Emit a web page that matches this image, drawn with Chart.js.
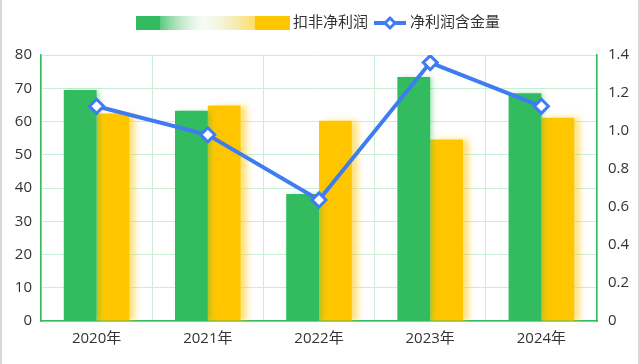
<!DOCTYPE html>
<html>
<head>
<meta charset="utf-8">
<script src="https://cdn.jsdelivr.net/npm/chart.js@4/dist/chart.umd.min.js"></script>
<style>
    html, body { margin: 0; padding: 0; background: #fff; }
    #wrap { width: 640px; height: 364px; box-sizing: border-box; border-left: 2px solid #d6d6d6; border-right: 2px solid #d6d6d6; }
    #wrap canvas { display: block; }
</style>
</head>
<body>
<div id="wrap"><canvas id="profit-chart" width="636" height="364"></canvas></div>
<script>
    "use strict";

    const years = ['2020年', '2021年', '2022年', '2023年', '2024年'];
    const netProfit = [69.5, 63.2, 38.2, 73.4, 68.5];
    const deductedProfit = [62.4, 64.8, 60.2, 54.6, 61.1];
    const profitQuality = [1.13, 0.98, 0.637, 1.36, 1.13];

    const green = '#32bc5f';
    const yellow = '#ffc600';
    const blue = '#3f7bf2';
    const gridColor = '#c9efd6';
    const font = { family: "'Open Sans', 'Noto Sans CJK SC', sans-serif", size: 15 };

    // soft glow behind the bars
    const barShadow = {
        id: 'barShadow',
        beforeDatasetDraw(chart, args) {
            const ctx = chart.ctx;
            ctx.save();
            if (args.index === 0) {
                ctx.shadowColor = 'rgba(50,188,95,0.4)';
                ctx.shadowBlur = 5;
                ctx.shadowOffsetX = 3;
            } else if (args.index === 1) {
                ctx.shadowColor = 'rgba(255,198,0,0.5)';
                ctx.shadowBlur = 6;
                ctx.shadowOffsetX = 6;
            }
        },
        afterDatasetDraw(chart) {
            chart.ctx.restore();
        }
    };

    // legend drawn by hand to keep the faded first swatch
    const topLegend = {
        id: 'topLegend',
        afterDraw(chart) {
            const ctx = chart.ctx;
            const y = 23;
            ctx.save();
            ctx.fillStyle = green;
            ctx.fillRect(134, y - 7, 24, 14);
            let g = ctx.createLinearGradient(158, 0, 253, 0);
            g.addColorStop(0, 'rgba(50,188,95,0.8)');
            g.addColorStop(0.45, 'rgba(200,230,190,0.15)');
            g.addColorStop(1, 'rgba(255,198,0,0.6)');
            ctx.fillStyle = g;
            ctx.fillRect(158, y - 7, 95, 14);
            ctx.fillStyle = yellow;
            ctx.fillRect(253, y - 7, 35, 14);

            ctx.font = "15px " + font.family;
            ctx.fillStyle = '#333';
            ctx.textBaseline = 'middle';
            ctx.fillText(chart.data.datasets[1].label, 291, y);

            ctx.strokeStyle = blue;
            ctx.lineWidth = 4;
            ctx.beginPath();
            ctx.moveTo(372, y);
            ctx.lineTo(404, y);
            ctx.stroke();
            ctx.beginPath();
            ctx.moveTo(388, y - 5);
            ctx.lineTo(393, y);
            ctx.lineTo(388, y + 5);
            ctx.lineTo(383, y);
            ctx.closePath();
            ctx.fillStyle = '#fff';
            ctx.fill();
            ctx.lineWidth = 3;
            ctx.stroke();

            ctx.fillStyle = '#333';
            ctx.fillText(chart.data.datasets[2].label, 408, y);
            ctx.restore();
        }
    };

    let profitChart = document.getElementById('profit-chart');
    if (profitChart) {
        window.Chart && new Chart(profitChart, {
            data: {
                labels: years,
                datasets: [{
                    type: 'bar',
                    label: '净利润',
                    data: netProfit,
                    backgroundColor: green,
                    yAxisID: 'y',
                    order: 2,
                    categoryPercentage: 0.59,
                    barPercentage: 1
                }, {
                    type: 'bar',
                    label: '扣非净利润',
                    data: deductedProfit,
                    backgroundColor: yellow,
                    yAxisID: 'y',
                    order: 2,
                    categoryPercentage: 0.59,
                    barPercentage: 1
                }, {
                    type: 'line',
                    label: '净利润含金量',
                    data: profitQuality,
                    yAxisID: 'y1',
                    order: 1,
                    borderColor: blue,
                    borderWidth: 4,
                    pointStyle: 'rectRot',
                    pointRadius: 7,
                    pointBorderWidth: 3,
                    pointBackgroundColor: '#fff',
                    pointBorderColor: blue,
                    tension: 0
                }]
            },
            options: {
                responsive: false,
                animation: false,
                layout: {
                    padding: { top: 55, left: 0, right: 0, bottom: 0 }
                },
                plugins: {
                    legend: { display: false },
                    tooltip: { enabled: false }
                },
                scales: {
                    x: {
                        grid: {
                            color: gridColor,
                            drawTicks: false
                        },
                        border: { color: green, width: 1.5 },
                        ticks: { color: '#333', font: font, padding: 9 },
                        afterFit(scale) { scale.height = 43; }
                    },
                    y: {
                        position: 'left',
                        min: 0,
                        max: 80,
                        grid: {
                            color: gridColor,
                            drawTicks: false
                        },
                        border: { color: green, width: 1.5 },
                        ticks: { stepSize: 10, color: '#333', font: font, padding: 9 },
                        afterFit(scale) { scale.width = 39; }
                    },
                    y1: {
                        position: 'right',
                        min: 0,
                        max: 1.4,
                        grid: { display: false, drawTicks: false },
                        border: { color: green, width: 1.5 },
                        ticks: { stepSize: 0.2, color: '#333', font: font, padding: 11 },
                        afterFit(scale) { scale.width = 41; }
                    }
                }
            },
            plugins: [barShadow, topLegend]
        });
    }
</script>
</body>
</html>
